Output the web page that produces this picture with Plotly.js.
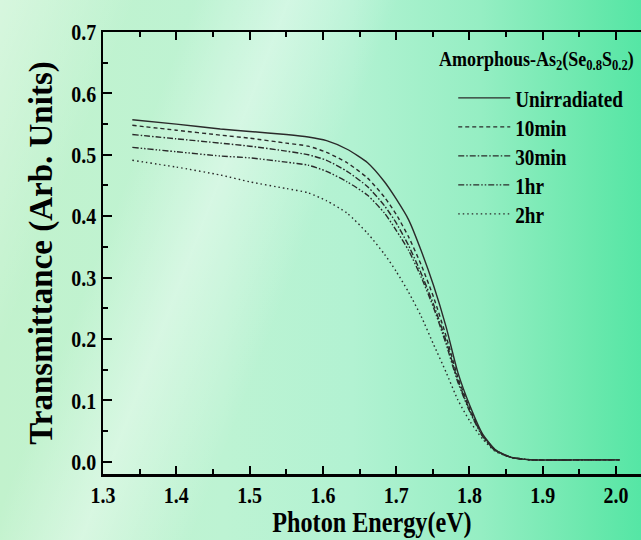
<!DOCTYPE html>
<html>
<head>
<meta charset="utf-8">
<script src="https://cdn.plot.ly/plotly-3.0.1.min.js"></script>
<style>
  html, body { margin: 0; padding: 0; }
  body {
    width: 641px; height: 540px; overflow: hidden;
    background:
      linear-gradient(111deg, rgba(255,255,255,0) 23%, rgba(255,255,255,0.38) 34%, rgba(255,255,255,0) 47%),
      linear-gradient(111deg, rgba(255,255,255,0.35) 0%, rgba(255,255,255,0) 16%),
      linear-gradient(to right, #c2f2cd 0%, #bdf3d3 35%, #b2f2d2 55%, #95eec3 75%, #6ae8ad 92%, #55e6a5 100%);
  }
  #chart { width: 641px; height: 540px; }
</style>
</head>
<body>
<div id="chart"></div>
<script>
// Photon energy (eV)
var energy = [1.34, 1.40, 1.46, 1.50, 1.55, 1.58, 1.605, 1.633, 1.661, 1.684, 1.70, 1.717, 1.734, 1.751, 1.768, 1.784, 1.801, 1.818, 1.835, 1.857, 1.885, 1.95, 2.005];

// Transmittance (Arb. Units)
var unirradiated = [0.557, 0.550, 0.542, 0.538, 0.533, 0.529, 0.523, 0.509, 0.487, 0.456, 0.428, 0.394, 0.344, 0.287, 0.220, 0.146, 0.090, 0.045, 0.020, 0.007, 0.003, 0.003, 0.003];
var min10        = [0.548, 0.540, 0.532, 0.527, 0.519, 0.514, 0.504, 0.487, 0.462, 0.431, 0.403, 0.366, 0.321, 0.268, 0.205, 0.138, 0.085, 0.043, 0.019, 0.007, 0.003, 0.003, 0.003];
var min30        = [0.533, 0.526, 0.519, 0.514, 0.506, 0.500, 0.491, 0.473, 0.448, 0.417, 0.389, 0.352, 0.307, 0.256, 0.197, 0.133, 0.082, 0.042, 0.019, 0.007, 0.003, 0.003, 0.003];
var hr1          = [0.512, 0.505, 0.498, 0.495, 0.488, 0.483, 0.473, 0.456, 0.434, 0.405, 0.377, 0.344, 0.301, 0.251, 0.192, 0.130, 0.080, 0.041, 0.018, 0.007, 0.003, 0.003, 0.003];
var hr2          = [0.491, 0.480, 0.467, 0.456, 0.445, 0.438, 0.425, 0.405, 0.372, 0.338, 0.310, 0.276, 0.237, 0.191, 0.146, 0.101, 0.065, 0.037, 0.017, 0.007, 0.003, 0.003, 0.003];

var seriesNames = ['Unirradiated', '10min', '30min', '1hr', '2hr'];
var seriesData = [unirradiated, min10, min30, hr1, hr2];
var seriesDash = ['solid', '4px,3px', '6px,2px,1.5px,2px', '6px,2px,1.5px,2px,1.5px,2px', '1.5px,3px'];

var legendTitle = 'Amorphous-As<sub>2</sub>(Se<sub>0.8</sub>S<sub>0.2</sub>)';

var FONT = '"Liberation Serif", "Times New Roman", serif';

var traces = seriesNames.map(function (name, i) {
  return {
    type: 'scatter', mode: 'lines', name: name,
    x: energy, y: seriesData[i],
    line: { color: '#2a2a2a', width: 1.4, dash: seriesDash[i], shape: 'spline', smoothing: 0.6 },
    legendgroup: 'g' + i
  };
});

var layout = {
  width: 641, height: 540,
  margin: { l: 103, r: 0, t: 32, b: 66 },
  paper_bgcolor: 'rgba(0,0,0,0)',
  plot_bgcolor: 'rgba(0,0,0,0)',
  font: { family: FONT, color: '#000', size: 20 },
  xaxis: {
    range: [1.3, 2.034], tick0: 1.3, dtick: 0.1, tickformat: '.1f',
    ticks: 'inside', ticklen: 8, tickwidth: 2, tickcolor: '#000',
    minor: { dtick: 0.05, ticks: 'inside', ticklen: 5, tickwidth: 2, tickcolor: '#000' },
    showline: true, linewidth: 2.5, linecolor: '#000', mirror: 'ticks',
    showgrid: false, zeroline: false,
    tickfont: { family: FONT, size: 21, weight: 'bold' },
    title: { text: 'Photon Energy(eV)', font: { family: FONT, size: 26, weight: 'bold' }, standoff: 8 }
  },
  yaxis: {
    range: [-0.02, 0.7], tick0: 0, dtick: 0.1, tickformat: '.1f',
    ticks: 'inside', ticklen: 9, tickwidth: 2, tickcolor: '#000',
    minor: { dtick: 0.05, ticks: 'inside', ticklen: 5, tickwidth: 2, tickcolor: '#000' },
    showline: true, linewidth: 2.5, linecolor: '#000',
    showgrid: false, zeroline: false,
    tickfont: { family: FONT, size: 21, weight: 'bold' },
    title: { text: 'Transmittance (Arb. Units)', font: { family: FONT, size: 33, weight: 'bold' }, standoff: 8 }
  },
  showlegend: true,
  legend: {
    x: 0.651, y: 0.895, xanchor: 'left', yanchor: 'top',
    bgcolor: 'rgba(0,0,0,0)', borderwidth: 0,
    font: { family: FONT, size: 20, weight: 'bold', color: '#000' },
    itemwidth: 52, tracegroupgap: 0, traceorder: 'grouped'
  },
  annotations: [{
    text: legendTitle, xref: 'paper', yref: 'paper',
    x: (437 - 103) / 538, y: (474 - 60) / 442, xanchor: 'left', yanchor: 'middle',
    showarrow: false,
    font: { family: FONT, size: 18, weight: 'bold', color: '#000' }
  }]
};

// Narrow, tall look of the original bold serif lettering: scale each text about its anchor.
function reshape(selector, sx, sy, forcedAnchor) {
  document.querySelectorAll('#chart ' + selector).forEach(function (t) {
    var b;
    try { b = t.getBBox(); } catch (e) { return; }
    if (!b || b.width === 0) return;
    var anchor = forcedAnchor || t.getAttribute('text-anchor') || 'start';
    var ax = anchor === 'end' ? b.x + b.width : (anchor === 'middle' ? b.x + b.width / 2 : b.x);
    var ay = b.y + b.height / 2;
    var tr = t.getAttribute('transform') || '';
    t.setAttribute('transform', tr + ' translate(' + ax + ',' + ay + ') scale(' + sx + ',' + sy + ') translate(' + (-ax) + ',' + (-ay) + ')');
  });
}

Plotly.newPlot('chart', traces, layout, { displayModeBar: false, staticPlot: true }).then(function () {
  reshape('.xtick text', 0.95, 1.12);
  reshape('.ytick text', 0.95, 1.12);
  reshape('.g-xtitle text', 0.93, 1.1, 'middle');
  reshape('.legendtext', 0.96, 1.18, 'start');
  reshape('.annotation-text', 1.0, 1.15, 'start');
});
</script>
</body>
</html>
